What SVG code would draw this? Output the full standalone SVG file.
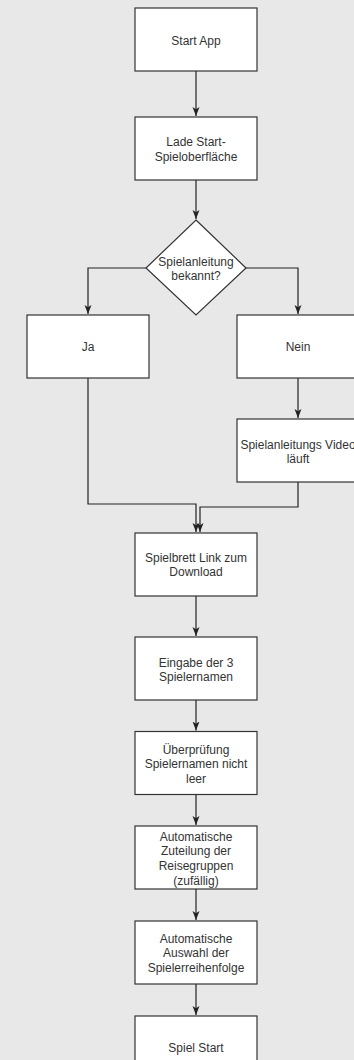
<svg xmlns="http://www.w3.org/2000/svg" width="354" height="1060" viewBox="0 0 354 1060">
<style>
.bg{fill:#e8e8e8}
.box{fill:#ffffff;stroke:#333333;stroke-width:1.2}
.t{font-family:"Liberation Sans",Arial,sans-serif;font-size:12px;fill:#333333;text-anchor:middle}
.c{fill:none;stroke:#222222;stroke-width:1.2}
</style>
<defs>
<marker id="arr" markerUnits="userSpaceOnUse" markerWidth="10" markerHeight="8" refX="9" refY="3.5" orient="auto">
<path d="M0,0 L9,3.5 L0,7 L2.2,3.5 Z" fill="#222222"/>
</marker>
</defs>
<rect class="bg" x="0" y="0" width="354" height="1060"/>
<g id="connectors">
<path class="c" d="M196,71 V116" marker-end="url(#arr)"/>
<path class="c" d="M196,180 V219" marker-end="url(#arr)"/>
<path class="c" d="M146,268 H88 V314" marker-end="url(#arr)"/>
<path class="c" d="M246,268 H298 V314" marker-end="url(#arr)"/>
<path class="c" d="M298,378 V418" marker-end="url(#arr)"/>
<path class="c" d="M88,378 V504 H196 V532" marker-end="url(#arr)"/>
<path class="c" d="M298,482 V507 H200 V532" marker-end="url(#arr)"/>
<path class="c" d="M196,596 V636" marker-end="url(#arr)"/>
<path class="c" d="M196,700 V730.5" marker-end="url(#arr)"/>
<path class="c" d="M196,794.5 V825" marker-end="url(#arr)"/>
<path class="c" d="M196,889 V920" marker-end="url(#arr)"/>
<path class="c" d="M196,984 V1015" marker-end="url(#arr)"/>
</g>
<g id="start-app">
<rect class="box" x="135" y="8" width="122" height="63"/>
<text class="t" x="196" y="44.5">Start App</text>
</g>
<g id="lade-start">
<rect class="box" x="135" y="117" width="122" height="63"/>
<text class="t" x="196" y="146">Lade Start-</text>
<text class="t" x="196" y="160.5">Spieloberfläche</text>
</g>
<g id="spielanleitung-bekannt">
<polygon class="box" points="196,220 246,268 196,315 146,268"/>
<text class="t" x="196" y="266">Spielanleitung</text>
<text class="t" x="196" y="280">bekannt?</text>
</g>
<g id="ja">
<rect class="box" x="27" y="315" width="122" height="63"/>
<text class="t" x="88" y="351">Ja</text>
</g>
<g id="nein">
<rect class="box" x="237" y="315" width="122" height="63"/>
<text class="t" x="298" y="351">Nein</text>
</g>
<g id="video">
<rect class="box" x="237" y="419" width="122" height="63"/>
<text class="t" x="298" y="448.5">Spielanleitungs Video</text>
<text class="t" x="298" y="463">läuft</text>
</g>
<g id="spielbrett">
<rect class="box" x="135" y="533" width="122" height="63"/>
<text class="t" x="196" y="561.5">Spielbrett Link zum</text>
<text class="t" x="196" y="576">Download</text>
</g>
<g id="eingabe">
<rect class="box" x="135" y="637" width="122" height="63"/>
<text class="t" x="196" y="666.5">Eingabe der 3</text>
<text class="t" x="196" y="681">Spielernamen</text>
</g>
<g id="ueberpruefung">
<rect class="box" x="135" y="731.5" width="122" height="63"/>
<text class="t" x="196" y="753.5">Überprüfung</text>
<text class="t" x="196" y="768">Spielernamen nicht</text>
<text class="t" x="196" y="782.5">leer</text>
</g>
<g id="zuteilung">
<rect class="box" x="135" y="826" width="122" height="63"/>
<text class="t" x="196" y="840.5">Automatische</text>
<text class="t" x="196" y="855">Zuteilung der</text>
<text class="t" x="196" y="869.5">Reisegruppen</text>
<text class="t" x="196" y="884.5">(zufällig)</text>
</g>
<g id="auswahl">
<rect class="box" x="135" y="921" width="122" height="63"/>
<text class="t" x="196" y="942.5">Automatische</text>
<text class="t" x="196" y="957">Auswahl der</text>
<text class="t" x="196" y="971.5">Spielerreihenfolge</text>
</g>
<g id="spiel-start">
<rect class="box" x="135" y="1016" width="122" height="63"/>
<text class="t" x="196" y="1052">Spiel Start</text>
</g>
</svg>
